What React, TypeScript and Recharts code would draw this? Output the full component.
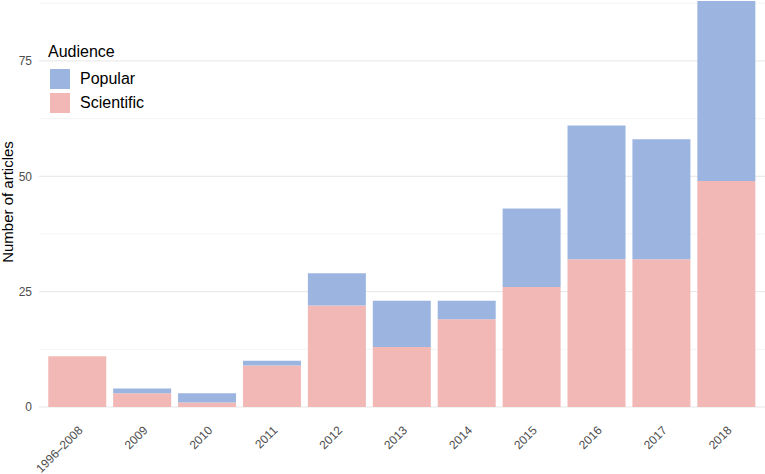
import React from 'react';
import { BarChart, Bar, XAxis, YAxis, CartesianGrid, Label } from 'recharts';

const periods = ['1996–2008', '2009', '2010', '2011', '2012', '2013', '2014', '2015', '2016', '2017', '2018'];
const scientific = [11, 3, 1, 9, 22, 13, 19, 26, 32, 32, 49];
const popular = [0, 1, 2, 1, 7, 10, 4, 17, 29, 26, 39];
const yTicks = [0, 25, 50, 75];
const minorLines = [12.5, 37.5, 62.5, 87.5];

const SCI = '#f1b8b5';
const POP = '#9bb5e0';
const FONT = '"Liberation Sans", Arial, sans-serif';

const chartData = periods.map((p, i) => ({ name: p, Scientific: scientific[i], Popular: popular[i] }));

const XTick = (props: any) => {
  const { x, y, payload } = props;
  const ax = x + 6;
  const ay = y + 16;
  return (
    <text
      x={ax}
      y={ay}
      transform={`rotate(-45, ${ax}, ${ay})`}
      textAnchor="end"
      fontSize={12}
      fill="#4d4d4d"
      fontFamily={FONT}
    >
      {payload.value}
    </text>
  );
};

const YTitle = () => {
  const cy = 202;
  const cx = 13;
  return (
    <text
      x={cx}
      y={cy}
      transform={`rotate(-90, ${cx}, ${cy})`}
      textAnchor="middle"
      fontSize={15}
      fill="#000"
      fontFamily={FONT}
    >
      Number of articles
    </text>
  );
};

const legendItems = [
  { label: 'Popular', color: POP },
  { label: 'Scientific', color: SCI },
];

const AudienceLegend = () => (
  <div style={{ position: 'absolute', left: 48, top: 43, fontFamily: FONT, color: '#000' }}>
    <div style={{ fontSize: 16, lineHeight: '18px', height: 24 }}>Audience</div>
    {legendItems.map((d) => (
      <div key={d.label} style={{ display: 'flex', alignItems: 'center', height: 24 }}>
        <div style={{ width: 20, height: 20, background: d.color, marginLeft: 2, marginRight: 10 }} />
        <span style={{ fontSize: 16 }}>{d.label}</span>
      </div>
    ))}
  </div>
);

export default function App() {
  return (
    <div style={{ position: 'absolute', left: 0, top: 0, width: 765, height: 474, background: '#fff' }}>
      <BarChart
        width={765}
        height={474}
        data={chartData}
        margin={{ top: 0, right: 0, bottom: 0, left: 0 }}
        barCategoryGap="5%"
      >
        <CartesianGrid vertical={false} horizontalValues={minorLines} stroke="#f1f1f1" strokeWidth={0.8} />
        <CartesianGrid vertical={false} horizontalValues={yTicks} stroke="#e6e6e6" strokeWidth={1} />
        <XAxis
          dataKey="name"
          tick={<XTick />}
          tickLine={false}
          axisLine={false}
          height={67}
          interval={0}
          padding={{ left: 6, right: 6 }}
        />
        <YAxis
          width={39}
          domain={[0, 88.2]}
          ticks={yTicks}
          allowDataOverflow
          tickLine={false}
          axisLine={false}
          tickMargin={1}
          tick={{ fontSize: 12, fill: '#4d4d4d', fontFamily: FONT }}
        >
          <Label content={<YTitle />} />
        </YAxis>
        <Bar dataKey="Scientific" stackId="a" fill={SCI} isAnimationActive={false} />
        <Bar dataKey="Popular" stackId="a" fill={POP} isAnimationActive={false} />
      </BarChart>
      <AudienceLegend />
    </div>
  );
}
